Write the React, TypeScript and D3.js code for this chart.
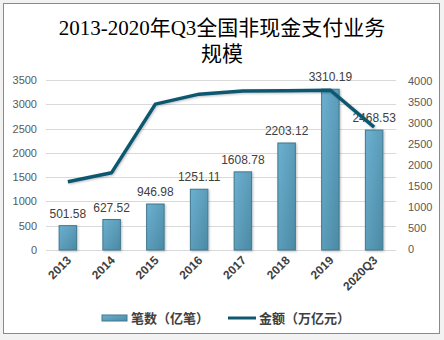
import React from "react";
import * as d3 from "d3";

const categories = ["2013", "2014", "2015", "2016", "2017", "2018", "2019", "2020Q3"];
const countValues = [501.58, 627.52, 946.98, 1251.11, 1608.78, 2203.12, 3310.19, 2468.53];
const amountValues = [1602.8, 1817.4, 3448.9, 3687.2, 3759.9, 3768.0, 3779.5, 2900];
const leftTicks = [0, 500, 1000, 1500, 2000, 2500, 3000, 3500];
const rightTicks = [0, 500, 1000, 1500, 2000, 2500, 3000, 3500, 4000];
const titleLines = ["2013-2020年Q3全国非现金支付业务", "规模"];
const legendLabels = ["笔数（亿笔）", "金额（万亿元）"];

export default function App() {
  const W = 444, H = 340;
  const left = 46, right = 396, top = 80, bottom = 250;
  const x = d3.scaleBand<string>().domain(categories).range([left, right]).paddingInner(0.6).paddingOuter(0.3);
  const xc = (c: string) => (x(c) as number) + x.bandwidth() / 2;
  const yL = d3.scaleLinear().domain([0, 3500]).range([bottom, top]);
  const yR = d3.scaleLinear().domain([0, 4000]).range([bottom - 1, top + 1]);
  const line = d3.line<number>().x((_, i) => xc(categories[i])).y((d) => yR(d));
  const font = "'Liberation Sans', 'Noto Sans CJK SC', sans-serif";
  const tickColor = "#595959";
  return (
    <svg width={W} height={H} style={{ position: "absolute", left: 0, top: 0 }}>
      <defs>
        <linearGradient id="barG" x1="0" y1="0" x2="1" y2="1">
          <stop offset="0" stopColor="#6cb0d0" />
          <stop offset="1" stopColor="#4b8aa4" />
        </linearGradient>
        <filter id="sh" x="-10%" y="-10%" width="130%" height="130%">
          <feDropShadow dx="1" dy="1" stdDeviation="1" floodColor="#000" floodOpacity="0.25" />
        </filter>
      </defs>
      <rect x={0} y={0} width={W} height={H} fill="#f2f2f2" />
      <rect x={3.5} y={3.5} width={436} height={330} fill="#fff" stroke="#8a8a8a" strokeWidth={1} />
      <g fontFamily="'Liberation Serif', 'Noto Sans CJK SC', serif" fontSize={21} fill="#000" textAnchor="middle">
        <text x={222} y={35}>{titleLines[0]}</text>
        <text x={222} y={61}>{titleLines[1]}</text>
      </g>
      {leftTicks.map((t) => (
        <g key={"g" + t}>
          <line x1={left} x2={right} y1={Math.round(yL(t)) + 0.5} y2={Math.round(yL(t)) + 0.5} stroke="#d9d9d9" />
          <text x={37} y={yL(t) + 4} textAnchor="end" fontFamily={font} fontSize={11} fill={tickColor}>{t}</text>
        </g>
      ))}
      {rightTicks.map((t) => (
        <text key={"r" + t} x={408} y={yR(t) + 4} fontFamily={font} fontSize={11} fill={tickColor}>{t}</text>
      ))}
      {categories.map((c, i) => (
        <rect key={"b" + c} x={x(c)} y={yL(countValues[i])} width={x.bandwidth()} height={bottom - yL(countValues[i])}
          fill="url(#barG)" stroke="#41788f" strokeWidth={1} filter="url(#sh)" />
      ))}
      {categories.map((c, i) => (
        <text key={"l" + c} x={xc(c)} y={yL(countValues[i]) - 8} textAnchor="middle" fontFamily={font} fontSize={12} fill="#404040">
          {countValues[i].toFixed(2)}
        </text>
      ))}
      <path d={line(amountValues) || ""} fill="none" stroke="#0f5870" strokeWidth={3.5} strokeLinejoin="round" filter="url(#sh)" />
      {categories.map((c) => (
        <text key={"x" + c} transform={`translate(${xc(c) + 4},${bottom + 11}) rotate(-45)`} textAnchor="end"
          fontFamily={font} fontSize={12} fontWeight="bold" fill="#404040">{c}</text>
      ))}
      <rect x={102} y={315} width={25} height={6} fill="url(#barG)" stroke="#41788f" />
      <text x={131} y={323} fontFamily={font} fontSize={13} fontWeight="bold" fill="#404040">{legendLabels[0]}</text>
      <line x1={228} x2={256} y1={318} y2={318} stroke="#0f5870" strokeWidth={3} />
      <text x={259} y={323} fontFamily={font} fontSize={13} fontWeight="bold" fill="#404040">{legendLabels[1]}</text>
    </svg>
  );
}
